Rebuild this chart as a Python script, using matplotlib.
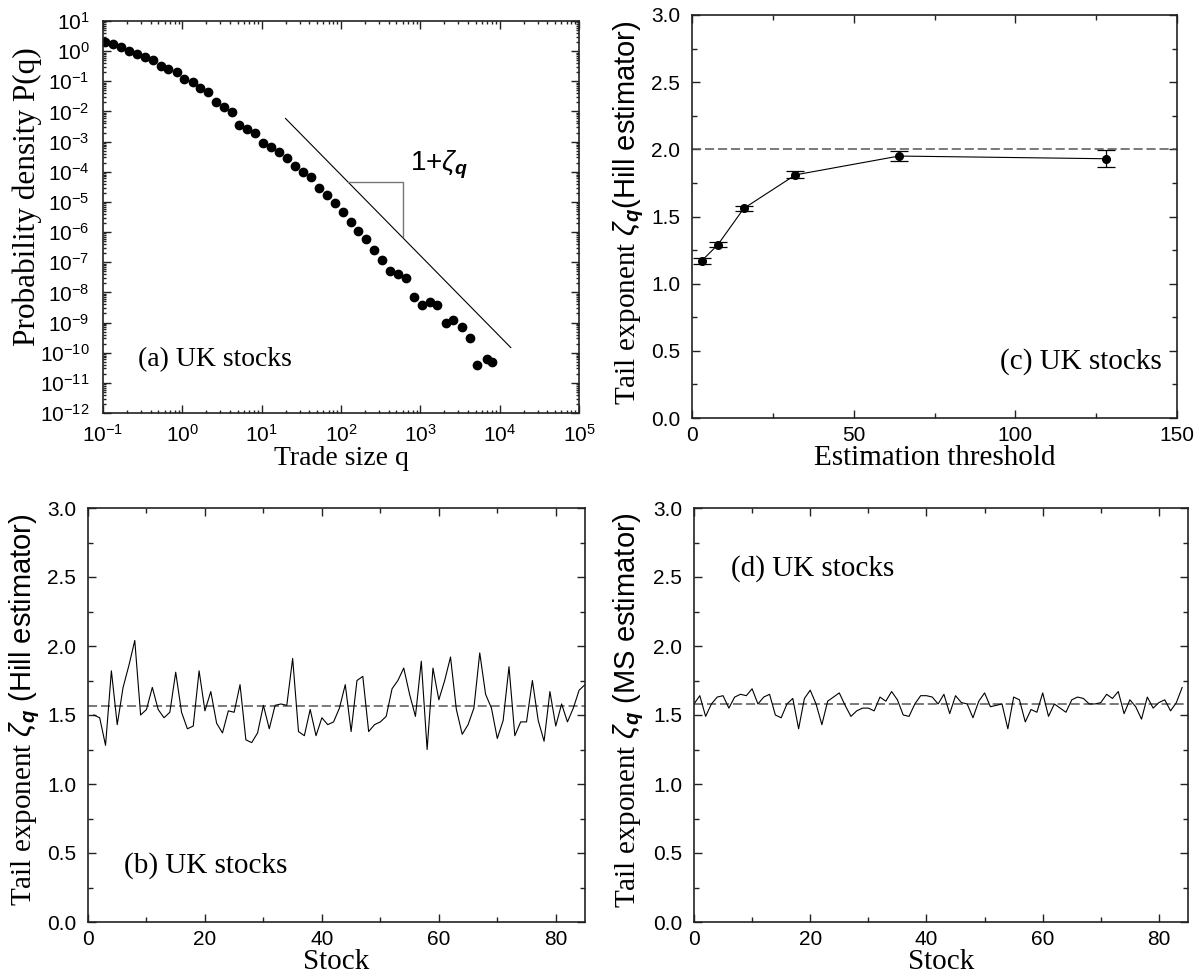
import numpy as np
import matplotlib
matplotlib.use("Agg")
import matplotlib.pyplot as plt
from matplotlib.ticker import MultipleLocator, LogLocator, NullFormatter

plt.rcParams['font.family'] = ['Liberation Sans', 'DejaVu Sans']
plt.rcParams['mathtext.fontset'] = 'custom'
plt.rcParams['mathtext.rm'] = 'Liberation Serif'
plt.rcParams['mathtext.sf'] = 'Liberation Sans'
plt.rcParams['mathtext.it'] = 'Liberation Sans:italic'
plt.rcParams['mathtext.bf'] = 'Liberation Sans:italic:bold'

# ---------------- data ----------------
# (a) probability density, log10 values
log_q = [-0.98, -0.87, -0.77, -0.67, -0.57, -0.47, -0.37, -0.27, -0.18, -0.07,
         0.02, 0.13, 0.22, 0.32, 0.43, 0.52, 0.62, 0.72, 0.82, 0.92,
         1.02, 1.12, 1.22, 1.32, 1.42, 1.52, 1.62, 1.72, 1.82, 1.92,
         2.02, 2.12, 2.22, 2.32, 2.42, 2.52, 2.62, 2.72, 2.82, 2.92,
         3.02, 3.12, 3.21, 3.32, 3.41, 3.52, 3.62, 3.72, 3.84, 3.90]
log_p = [0.32, 0.25, 0.14, 0.01, -0.10, -0.21, -0.30, -0.48, -0.58, -0.70,
         -0.93, -1.02, -1.21, -1.37, -1.67, -1.86, -2.01, -2.45, -2.57, -2.73,
         -3.04, -3.17, -3.34, -3.54, -3.80, -4.00, -4.19, -4.55, -4.78, -5.02,
         -5.35, -5.66, -5.95, -6.24, -6.59, -6.92, -7.28, -7.39, -7.53, -8.16,
         -8.41, -8.33, -8.41, -9.02, -8.91, -9.15, -9.50, -10.42, -10.21, -10.31]
# guide line (log10 endpoints) and slope triangle
guide_logq = [1.30, 4.14]
guide_logp = [-2.23, -9.83]
tri_logq = [2.09, 2.78, 2.78]
tri_logp = [-4.33, -4.33, -6.15]

# (b) Hill estimator per stock
stock_b = list(range(1, 86))
hill_b = [1.50, 1.48, 1.28, 1.82, 1.43, 1.70, 1.86, 2.04, 1.50, 1.54,
          1.70, 1.54, 1.48, 1.52, 1.81, 1.52, 1.40, 1.42, 1.82, 1.53,
          1.67, 1.44, 1.37, 1.53, 1.52, 1.72, 1.32, 1.30, 1.37, 1.57,
          1.40, 1.57, 1.58, 1.57, 1.91, 1.38, 1.35, 1.54, 1.35, 1.48,
          1.43, 1.45, 1.55, 1.72, 1.38, 1.75, 1.78, 1.38, 1.43, 1.45,
          1.49, 1.69, 1.75, 1.84, 1.65, 1.49, 1.89, 1.25, 1.84, 1.61,
          1.75, 1.92, 1.54, 1.36, 1.43, 1.55, 1.95, 1.65, 1.55, 1.33,
          1.46, 1.85, 1.35, 1.45, 1.45, 1.75, 1.46, 1.31, 1.67, 1.42,
          1.58, 1.45, 1.55, 1.68, 1.72]
mean_b = 1.565

# (c) Hill estimator vs threshold
threshold = [3, 8, 16, 32, 64, 128]
hill_c = [1.17, 1.29, 1.56, 1.81, 1.95, 1.93]
err_c = [0.02, 0.02, 0.02, 0.025, 0.04, 0.065]
ref_c = 2.0

# (d) MS estimator per stock
stock_d = list(range(0, 85))
ms_d = [1.58, 1.64, 1.49, 1.58, 1.63, 1.64, 1.55, 1.63, 1.65, 1.64,
        1.69, 1.58, 1.63, 1.65, 1.50, 1.48, 1.58, 1.62, 1.40, 1.62,
        1.68, 1.58, 1.43, 1.60, 1.63, 1.66, 1.57, 1.49, 1.53, 1.55,
        1.55, 1.53, 1.63, 1.60, 1.67, 1.61, 1.50, 1.49, 1.58, 1.64,
        1.64, 1.63, 1.58, 1.65, 1.51, 1.64, 1.59, 1.58, 1.48, 1.60,
        1.66, 1.56, 1.57, 1.58, 1.40, 1.63, 1.61, 1.45, 1.54, 1.52,
        1.66, 1.49, 1.58, 1.55, 1.52, 1.61, 1.63, 1.62, 1.58, 1.58,
        1.59, 1.65, 1.62, 1.67, 1.51, 1.61, 1.56, 1.47, 1.63, 1.55,
        1.59, 1.61, 1.53, 1.59, 1.70]
mean_d = 1.58

# ---------------- figure ----------------
W, H = 1195, 975
fig = plt.figure(figsize=(W / 100, H / 100), dpi=100)


def box(l, r, t, b):
    return [l / W, 1 - b / H, (r - l) / W, (b - t) / H]


TICK_FS = 15
LAB_FS = 21
SERIF = 'Liberation Serif'
DASH_COL = '#555555'


def style(ax):
    ax.tick_params(which='both', direction='in', top=True, right=True,
                   labelsize=TICK_FS, width=1.0, color='#222222')
    ax.tick_params(axis='y', which='both', pad=8.5)
    ax.tick_params(axis='x', which='both', pad=5.5)
    ax.tick_params(which='major', length=6)
    ax.tick_params(which='minor', length=3.5)
    for s in ax.spines.values():
        s.set_linewidth(1.2)
        s.set_color('#222222')


def linear_ticks(ax, xmaj, xmin):
    ax.xaxis.set_major_locator(MultipleLocator(xmaj))
    ax.xaxis.set_minor_locator(MultipleLocator(xmin))
    ax.yaxis.set_major_locator(MultipleLocator(0.5))
    ax.yaxis.set_minor_locator(MultipleLocator(0.25))
    ax.yaxis.set_major_formatter(plt.FormatStrFormatter('%.1f'))


# (a)
axa = fig.add_axes(box(103, 579, 21, 413))
qa = [10 ** v for v in log_q]
pa = [10 ** v for v in log_p]
axa.loglog(qa, pa, 'o', color='black', ms=6, mec='black')
axa.plot([10 ** v for v in guide_logq], [10 ** v for v in guide_logp],
         color='black', lw=0.8)
axa.plot([10 ** v for v in tri_logq], [10 ** v for v in tri_logp],
         color='#777777', lw=1.0)
axa.set_xlim(1e-1, 1e5)
axa.set_ylim(1e-12, 1e1)
axa.xaxis.set_major_locator(LogLocator(base=10, numticks=20))
axa.yaxis.set_major_locator(LogLocator(base=10, numticks=30))
axa.xaxis.set_minor_locator(LogLocator(base=10, subs=np.arange(2, 10), numticks=30))
axa.yaxis.set_minor_locator(LogLocator(base=10, subs=np.arange(2, 10), numticks=30))
axa.xaxis.set_minor_formatter(NullFormatter())
axa.yaxis.set_minor_formatter(NullFormatter())
style(axa)
axa.tick_params(which='minor', length=2.5)
axa.tick_params(axis='x', which='both', pad=8)
axa.tick_params(axis='y', which='both', pad=9.5)
axa.set_xlabel('Trade size q', fontfamily=SERIF, fontsize=20, labelpad=0)
axa.set_ylabel('Probability density P(q)', fontfamily=SERIF, fontsize=22.5)
axa.yaxis.set_label_coords(-0.128, 0.552)
axa.text(10 ** -0.56, 10 ** -10.24, '(a) UK stocks', fontfamily=SERIF,
         fontsize=20, va='center', ha='left')
axa.text(10 ** 2.87, 10 ** -3.78, r'1+$\zeta_{\mathbf{q}}$',
         fontsize=20, va='center', ha='left')

# (c)
axc = fig.add_axes(box(692, 1177, 15, 418))
axc.axhline(ref_c, color=DASH_COL, lw=1.1, dashes=(6, 2.5))
axc.errorbar(threshold, hill_c, yerr=err_c, fmt='o-', color='black', ms=5.5,
             lw=0.8, elinewidth=0.9, capsize=6.5, capthick=0.9)
axc.set_xlim(0, 150)
axc.set_ylim(0, 3)
linear_ticks(axc, 50, 25)
style(axc)
axc.set_xlabel('Estimation threshold', fontfamily=SERIF, fontsize=LAB_FS, labelpad=0)
axc.set_ylabel(r'$\mathrm{Tail\ exponent}\ \zeta_{\mathbf{q}}\mathsf{(Hill\ estimator)}$',
               fontsize=LAB_FS)
axc.yaxis.set_label_coords(-0.095, 0.51)
axc.text(145.4, 0.42, '(c) UK stocks', fontfamily=SERIF, fontsize=LAB_FS,
         va='center', ha='right')

# (b)
axb = fig.add_axes(box(88, 585, 508, 922))
axb.axhline(mean_b, color=DASH_COL, lw=1.1, dashes=(6, 2.5))
axb.plot(stock_b, hill_b, color='black', lw=0.8)
axb.set_xlim(0, 85)
axb.set_ylim(0, 3)
linear_ticks(axb, 20, 10)
style(axb)
axb.set_xlabel('Stock', fontfamily=SERIF, fontsize=LAB_FS, labelpad=0)
axb.set_ylabel(r'$\mathrm{Tail\ exponent}\ \zeta_{\mathbf{q}}\ \mathsf{(Hill\ estimator)}$',
               fontsize=LAB_FS)
axb.yaxis.set_label_coords(-0.093, 0.512)
axb.text(6.2, 0.41, '(b) UK stocks', fontfamily=SERIF, fontsize=LAB_FS,
         va='center', ha='left')

# (d)
axd = fig.add_axes(box(694, 1188, 508, 922))
axd.axhline(mean_d, color=DASH_COL, lw=1.1, dashes=(6, 2.5))
axd.plot(stock_d, ms_d, color='black', lw=0.8)
axd.set_xlim(0, 85)
axd.set_ylim(0, 3)
linear_ticks(axd, 20, 10)
style(axd)
axd.set_xlabel('Stock', fontfamily=SERIF, fontsize=LAB_FS, labelpad=0)
axd.set_ylabel(r'$\mathrm{Tail\ exponent}\ \zeta_{\mathbf{q}}\ \mathsf{(MS\ estimator)}$',
               fontsize=LAB_FS)
axd.yaxis.set_label_coords(-0.097, 0.512)
axd.text(6.4, 2.56, '(d) UK stocks', fontfamily=SERIF, fontsize=LAB_FS,
         va='center', ha='left')

fig.savefig('out.png', dpi=100)
